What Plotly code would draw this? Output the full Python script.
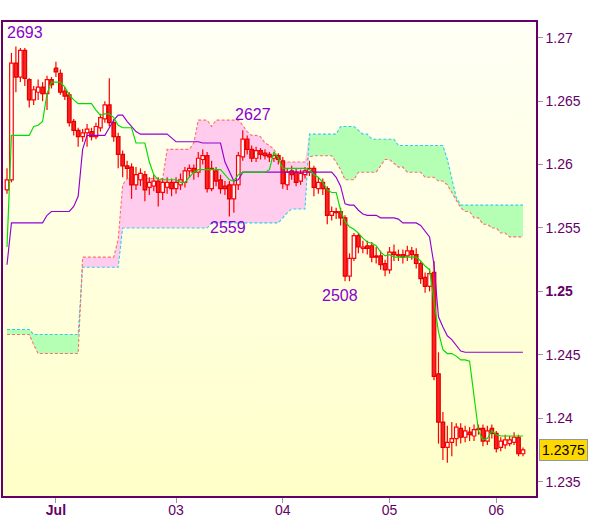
import plotly.graph_objects as go

# ---------------- data (EUR/USD hourly) ----------------
opens = [1.2580, 1.2588, 1.2680, 1.2669, 1.2690, 1.2667, 1.2651, 1.2657, 1.2661, 1.2656,
         1.2667, 1.2676, 1.2672, 1.2658, 1.2655, 1.2634, 1.2627, 1.2622, 1.2625, 1.2626,
         1.2622, 1.2629, 1.2636, 1.2647, 1.2633, 1.2622, 1.2608, 1.2599, 1.2598, 1.2584,
         1.2588, 1.2592, 1.2582, 1.2583, 1.2587, 1.2578, 1.2582, 1.2586, 1.2581, 1.2584,
         1.2586, 1.2595, 1.2597, 1.2594, 1.2604, 1.2607, 1.2581, 1.2595, 1.2588, 1.2583,
         1.2584, 1.2573, 1.2584, 1.2606, 1.2620, 1.2612, 1.2605, 1.2611, 1.2609, 1.2608,
         1.2605, 1.2607, 1.2603, 1.2584, 1.2595, 1.2594, 1.2587, 1.2592, 1.2594, 1.2597,
         1.2581, 1.2586, 1.2581, 1.2560, 1.2563, 1.2563, 1.2558, 1.2512, 1.2526, 1.2544,
         1.2534, 1.2536, 1.2536, 1.2528, 1.2528, 1.2522, 1.2517, 1.2531, 1.2528, 1.2529,
         1.2528, 1.2532, 1.2529, 1.2522, 1.2511, 1.2504, 1.2515, 1.2435, 1.2397, 1.2377,
         1.2381, 1.2384, 1.2392, 1.2385, 1.2389, 1.2386, 1.2392, 1.2392, 1.2382, 1.2392,
         1.2388, 1.2377, 1.2379, 1.2380, 1.2381, 1.2385, 1.2372]
highs = [1.2597, 1.2688, 1.2693, 1.2692, 1.2692, 1.2668, 1.2662, 1.2667, 1.2665, 1.2670,
         1.2669, 1.2681, 1.2675, 1.2661, 1.2657, 1.2636, 1.2629, 1.2628, 1.2632, 1.2629,
         1.2633, 1.2640, 1.2650, 1.2668, 1.2636, 1.2625, 1.2611, 1.2603, 1.2601, 1.2598,
         1.2597, 1.2595, 1.2590, 1.2592, 1.2590, 1.2589, 1.2590, 1.2589, 1.2590, 1.2593,
         1.2598, 1.2600, 1.2600, 1.2610, 1.2612, 1.2610, 1.2603, 1.2598, 1.2592, 1.2587,
         1.2587, 1.2588, 1.2610, 1.2627, 1.2623, 1.2615, 1.2614, 1.2613, 1.2612, 1.2610,
         1.2610, 1.2609, 1.2606, 1.2597, 1.2599, 1.2597, 1.2596, 1.2598, 1.2603, 1.2599,
         1.2590, 1.2589, 1.2583, 1.2567, 1.2566, 1.2566, 1.2560, 1.2530, 1.2546, 1.2546,
         1.2540, 1.2540, 1.2539, 1.2535, 1.2532, 1.2525, 1.2535, 1.2537, 1.2533, 1.2533,
         1.2536, 1.2535, 1.2534, 1.2524, 1.2515, 1.2518, 1.2524, 1.2452, 1.2405, 1.2394,
         1.2397, 1.2396, 1.2396, 1.2394, 1.2393, 1.2395, 1.2395, 1.2395, 1.2394, 1.2395,
         1.2390, 1.2385, 1.2387, 1.2386, 1.2389, 1.2387, 1.2377]
lows = [1.2577, 1.2586, 1.2657, 1.2665, 1.2662, 1.2645, 1.2647, 1.2651, 1.2650, 1.2643,
        1.2660, 1.2669, 1.2655, 1.2651, 1.2630, 1.2623, 1.2614, 1.2618, 1.2614, 1.2619,
        1.2620, 1.2626, 1.2633, 1.2630, 1.2618, 1.2597, 1.2590, 1.2589, 1.2573, 1.2580,
        1.2583, 1.2571, 1.2576, 1.2579, 1.2567, 1.2572, 1.2577, 1.2575, 1.2577, 1.2580,
        1.2582, 1.2590, 1.2588, 1.2590, 1.2600, 1.2578, 1.2579, 1.2583, 1.2577, 1.2576,
        1.2559, 1.2562, 1.2580, 1.2603, 1.2608, 1.2602, 1.2602, 1.2604, 1.2604, 1.2602,
        1.2602, 1.2600, 1.2581, 1.2580, 1.2588, 1.2583, 1.2584, 1.2589, 1.2591, 1.2575,
        1.2577, 1.2576, 1.2553, 1.2556, 1.2557, 1.2552, 1.2508, 1.2508, 1.2524, 1.2530,
        1.2530, 1.2529, 1.2523, 1.2522, 1.2517, 1.2512, 1.2514, 1.2524, 1.2524, 1.2522,
        1.2524, 1.2525, 1.2518, 1.2506, 1.2499, 1.2500, 1.2430, 1.2380, 1.2367, 1.2365,
        1.2370, 1.2378, 1.2380, 1.2381, 1.2382, 1.2382, 1.2387, 1.2378, 1.2379, 1.2384,
        1.2373, 1.2374, 1.2376, 1.2378, 1.2379, 1.2370, 1.2370]
closes = [1.2588, 1.2680, 1.2669, 1.2690, 1.2668, 1.2651, 1.2659, 1.2661, 1.2656, 1.2667,
          1.2663, 1.2673, 1.2657, 1.2654, 1.2633, 1.2627, 1.2622, 1.2625, 1.2628, 1.2622,
          1.2630, 1.2637, 1.2647, 1.2633, 1.2622, 1.2608, 1.2599, 1.2597, 1.2584, 1.2592,
          1.2593, 1.2580, 1.2586, 1.2587, 1.2578, 1.2586, 1.2586, 1.2581, 1.2586, 1.2588,
          1.2595, 1.2597, 1.2594, 1.2605, 1.2607, 1.2581, 1.2597, 1.2587, 1.2581, 1.2581,
          1.2573, 1.2584, 1.2607, 1.2620, 1.2612, 1.2605, 1.2611, 1.2608, 1.2607, 1.2606,
          1.2607, 1.2604, 1.2585, 1.2594, 1.2592, 1.2586, 1.2593, 1.2595, 1.2597, 1.2582,
          1.2586, 1.2581, 1.2560, 1.2563, 1.2562, 1.2558, 1.2512, 1.2526, 1.2544, 1.2535,
          1.2535, 1.2534, 1.2527, 1.2527, 1.2521, 1.2517, 1.2531, 1.2529, 1.2529, 1.2527,
          1.2532, 1.2529, 1.2522, 1.2510, 1.2504, 1.2514, 1.2433, 1.2397, 1.2377, 1.2381,
          1.2384, 1.2393, 1.2385, 1.2390, 1.2387, 1.2391, 1.2391, 1.2382, 1.2390, 1.2388,
          1.2376, 1.2382, 1.2383, 1.2383, 1.2385, 1.2372, 1.2375]

tenkan = ([1.2535] + [1.2623] * 5 + [1.2630, 1.2631, 1.2634, 1.2656] + [1.2665] * 3 +
          [1.2661, 1.2655, 1.2651] + [1.2648] * 4 + [1.2643, 1.2639, 1.2640, 1.2640, 1.2637, 1.2631] +
          [1.2629] * 3 + [1.2617] * 3 + [1.2602, 1.2592] + [1.2588] * 5 + [1.2586] * 2 +
          [1.2590, 1.2594] + [1.2596] * 6 + [1.2592, 1.2588, 1.2587, 1.2592] + [1.2594] * 6 +
          [1.2596, 1.2610, 1.2605, 1.2597] + [1.2597] * 5 +
          [1.2596, 1.2592, 1.2590, 1.2586, 1.2580, 1.2578, 1.2578, 1.2564, 1.2555, 1.2551,
           1.2549, 1.2546, 1.2542, 1.2539, 1.2538, 1.2536, 1.2531, 1.2528, 1.2529] +
          [1.2527] * 6 + [1.2524, 1.2520, 1.2517, 1.2494, 1.2468, 1.2454, 1.2451, 1.2451,
                          1.2449, 1.2446, 1.2446, 1.2445, 1.2415, 1.2390, 1.2383, 1.2384,
                          1.2390, 1.2387] + [1.2386] * 6)
kijun = ([1.2521] + [1.2554] * 8 + [1.2560] + [1.2563] * 5 + [1.2567, 1.2575, 1.2612] +
         [1.2623] * 5 + [1.2629, 1.2635, 1.2639, 1.2639, 1.2634, 1.2630, 1.2626] +
         [1.2624] * 7 + [1.2621] + [1.2618] * 6 + [1.2617] * 5 + [1.2602, 1.2594, 1.2587, 1.2588] +
         [1.2594] * 21 + [1.2590, 1.2583, 1.2569, 1.2568, 1.2568, 1.2564, 1.2561] +
         [1.2560] * 3 + [1.2558] * 4 + [1.2557] + [1.2554] * 4 +
         [1.2552, 1.2547, 1.2543, 1.2521, 1.2480, 1.2472, 1.2465, 1.2462, 1.2457, 1.2453] +
         [1.2452] * 14)
span_a = ([1.2470] * 6 + [1.2466] * 11 + [1.2519] * 9 + [1.2550] * 20 + [1.2554] * 16 +
          [1.2558, 1.2562] + [1.2565] * 4 + [1.2624] * 7 + [1.2630] * 4 + [1.2627] +
          [1.2624] * 2 + [1.2620] * 6 + [1.2615] * 11 + [1.2604, 1.2590, 1.2574] + [1.2568] * 15)
span_b = ([1.2466] * 6 + [1.2458] + [1.2451] * 10 + [1.2527] * 8 + [1.2541, 1.2584] +
          [1.2589] * 9 + [1.2612] * 6 + [1.2617] + [1.2635] * 3 + [1.2630] + [1.2635] * 6 +
          [1.2631, 1.2626, 1.2623, 1.2623, 1.2622, 1.2617, 1.2615, 1.2612, 1.2606] +
          [1.2602] * 6 + [1.2606] + [1.2607] * 5 + [1.2602, 1.2596] + [1.2588] * 3 +
          [1.2594] * 5 + [1.2599, 1.2604, 1.2604, 1.2601, 1.2598, 1.2598] + [1.2594] * 4 +
          [1.2590] * 3 + [1.2587] * 2 + [1.2584, 1.2578, 1.2571, 1.2566, 1.2563, 1.2563,
                                         1.2558, 1.2558, 1.2553, 1.2553, 1.2550, 1.2550,
                                         1.2546, 1.2546] + [1.2543] * 4)

hours = list(range(len(opens)))
day_tick_hours = [11, 38, 62, 86, 110]
day_tick_text = ["<b>Jul</b>", "03", "04", "05", "06"]
price_ticks = [1.235, 1.24, 1.245, 1.25, 1.255, 1.26, 1.265, 1.27]
price_tick_text = ["1.235", "1.24", "1.245", "<b>1.25</b>", "1.255", "1.26", "1.265", "1.27"]
# extreme points marked with their last four digits: (hour, kind, xshift, yshift)
extremes = [(2, "high", 9, 14), (53, "high", 10, 16), (50, "low", -1, -11), (76, "low", -5, -14)]

X_RANGE = [-0.9, 118.93]
Y_RANGE = [1.23387, 1.27124]
BODY_W = 0.8
AXIS_COLOR = "#660066"
FONT = "Liberation Sans, Arial, sans-serif"

fig = go.Figure()

# background gradient
fig.add_trace(go.Scatter(
    x=[X_RANGE[0], X_RANGE[1], X_RANGE[1], X_RANGE[0], X_RANGE[0]],
    y=[Y_RANGE[0], Y_RANGE[0], Y_RANGE[1], Y_RANGE[1], Y_RANGE[0]],
    mode="none", fill="toself",
    fillgradient=dict(type="vertical", colorscale=[[0, "#ffffc8"], [1, "#fffff6"]]),
    hoverinfo="skip", showlegend=False))

upper = [max(a, b) for a, b in zip(span_a, span_b)]

# bullish cloud (span A above span B)
fig.add_trace(go.Scatter(x=hours, y=span_b, mode="lines", line=dict(width=0),
                         hoverinfo="skip", showlegend=False))
fig.add_trace(go.Scatter(x=hours, y=upper, mode="lines", line=dict(width=0),
                         fill="tonexty", fillcolor="#b4ffb4", hoverinfo="skip", showlegend=False))
# bearish cloud (span B above span A)
fig.add_trace(go.Scatter(x=hours, y=span_a, mode="lines", line=dict(width=0),
                         hoverinfo="skip", showlegend=False))
fig.add_trace(go.Scatter(x=hours, y=upper, mode="lines", line=dict(width=0),
                         fill="tonexty", fillcolor="#ffccee", hoverinfo="skip", showlegend=False))

fig.add_trace(go.Scatter(x=hours, y=span_a, mode="lines",
                         line=dict(color="#33ccee", width=1.1, dash="3px,2px"),
                         hoverinfo="skip", showlegend=False))
fig.add_trace(go.Scatter(x=hours, y=span_b, mode="lines",
                         line=dict(color="#ff6f6f", width=1.1, dash="3px,2px"),
                         hoverinfo="skip", showlegend=False))

# candles drawn as scatter shapes so they sit above the cloud fills
wick_x, wick_y = [], []
up_x, up_y, dn_x, dn_y = [], [], [], []
for h, o, hi, lo, c in zip(hours, opens, highs, lows, closes):
    wick_x += [h, h, None]
    wick_y += [lo, hi, None]
    x0, x1 = h - BODY_W / 2, h + BODY_W / 2
    bx = [x0, x1, x1, x0, x0, None]
    by = [o, o, c, c, o, None]
    if c >= o:
        up_x += bx
        up_y += by
    else:
        dn_x += bx
        dn_y += by

fig.add_trace(go.Scatter(x=wick_x, y=wick_y, mode="lines",
                         line=dict(color="#ff0000", width=1.2),
                         hoverinfo="skip", showlegend=False))
fig.add_trace(go.Scatter(x=dn_x, y=dn_y, mode="lines", fill="toself", fillcolor="#ff2020",
                         line=dict(color="#e00000", width=1.2),
                         hoverinfo="skip", showlegend=False))
fig.add_trace(go.Scatter(x=up_x, y=up_y, mode="lines", fill="toself", fillcolor="#ffffff",
                         line=dict(color="#ff0000", width=1.2),
                         hoverinfo="skip", showlegend=False))

fig.add_trace(go.Scatter(x=hours, y=kijun, mode="lines",
                         line=dict(color="#9400d3", width=1.15),
                         hoverinfo="skip", showlegend=False))
fig.add_trace(go.Scatter(x=hours, y=tenkan, mode="lines",
                         line=dict(color="#00dd00", width=1.15),
                         hoverinfo="skip", showlegend=False))

annotations = []
for h, kind, xs, ys in extremes:
    v = highs[h] if kind == "high" else lows[h]
    annotations.append(dict(
        x=h, y=v, xref="x", yref="y", text=f"{round(v * 10000) % 10000:04d}",
        showarrow=False, xanchor="center", yanchor="middle", xshift=xs, yshift=ys,
        font=dict(family=FONT, size=16, color="#8a00d0")))

last = closes[-1]
annotations.append(dict(
    x=1, y=last, xref="paper", yref="y", text=f"{last:.4f}", showarrow=False,
    xanchor="left", yanchor="middle", xshift=3,
    font=dict(family=FONT, size=14, color="#000000"),
    bgcolor="#ffd800", bordercolor="#8899aa", borderwidth=1, borderpad=2))

fig.update_layout(
    width=600, height=519,
    margin=dict(l=3, r=64, t=22, b=23),
    paper_bgcolor="#ffffff", plot_bgcolor="#ffffff",
    showlegend=False, hovermode=False,
    annotations=annotations,
    xaxis=dict(range=X_RANGE, showgrid=False, zeroline=False, automargin=False,
               tickmode="array", tickvals=day_tick_hours, ticktext=day_tick_text,
               ticks="outside", ticklen=5, tickcolor="#999999", ticklabelstandoff=-5,
               tickfont=dict(family=FONT, size=14, color=AXIS_COLOR),
               showline=True, linecolor=AXIS_COLOR, linewidth=1.5, mirror=True),
    yaxis=dict(range=Y_RANGE, side="right", showgrid=False, zeroline=False, automargin=False,
               tickmode="array", tickvals=price_ticks, ticktext=price_tick_text,
               ticks="outside", ticklen=5, tickcolor="#999999",
               tickfont=dict(family=FONT, size=14, color=AXIS_COLOR),
               showline=True, linecolor=AXIS_COLOR, linewidth=1.5, mirror=True),
)

fig.write_html("out.html", config={"displayModeBar": False},
               post_script="document.body.style.margin='0';")
